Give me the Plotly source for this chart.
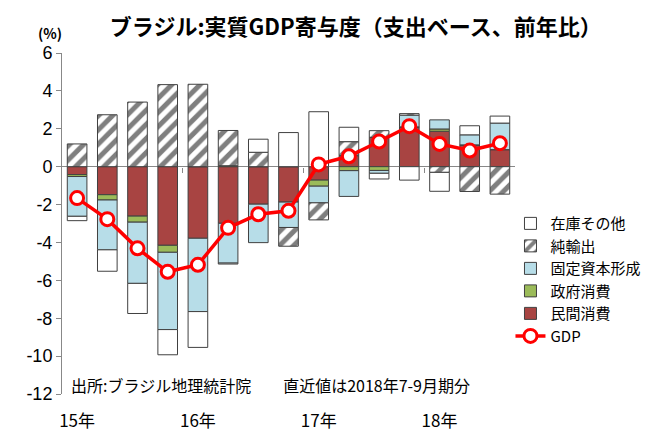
import plotly.graph_objects as go

# Brazil real GDP contributions (expenditure side, y/y, %pt), 2015Q1 - 2018Q3
quarters = ["15Q1", "15Q2", "15Q3", "15Q4", "16Q1", "16Q2", "16Q3", "16Q4",
            "17Q1", "17Q2", "17Q3", "17Q4", "18Q1", "18Q2", "18Q3"]
private_cons = [-0.42, -1.48, -2.61, -4.15, -3.78, -2.99, -1.98, -1.87,
                -0.71, 0.58, 1.55, 2.10, 1.87, 1.15, 0.90]
gov_cons = [-0.10, -0.28, -0.32, -0.37, 0.00, 0.05, 0.00, 0.00,
            -0.32, -0.21, -0.20, 0.00, 0.12, 0.00, 0.00]
fixed_cap = [-2.10, -2.63, -3.23, -4.08, -3.87, -2.10, -2.03, -1.34,
             -0.88, -1.36, -0.15, 0.62, 0.48, 0.53, 1.40]
net_exports = [1.20, 2.74, 3.41, 4.33, 4.35, 1.86, 0.76, -0.99,
               -0.90, 0.74, 0.35, 0.08, -0.30, -1.31, -1.45]
inventory = [-0.23, -1.13, -1.59, -1.33, -1.89, -0.05, 0.69, 1.80,
             2.90, 0.76, -0.30, -0.71, -1.00, 0.48, 0.37]
gdp = [-1.66, -2.77, -4.31, -5.55, -5.18, -3.23, -2.51, -2.33,
       0.12, 0.55, 1.33, 2.14, 1.20, 0.85, 1.24]

year_pos = [0, 4, 8, 12]
year_labels = ["15年", "16年", "17年", "18年"]
y_ticks = [6, 4, 2, 0, -2, -4, -6, -8, -10, -12]
y_labels = ["6", "4", "2", "0", "-2", "-4", "-6", "-8", "-10", "-12"]

JP = "Noto Sans CJK JP"
x = list(range(len(quarters)))
edge = dict(color="#404040", width=1)

fig = go.Figure()

# stacking order from the zero line outwards
fig.add_trace(go.Bar(name="民間消費", x=x, y=private_cons, legendrank=5,
                     marker=dict(color="#A84442", line=edge)))
fig.add_trace(go.Bar(name="政府消費", x=x, y=gov_cons, legendrank=4,
                     marker=dict(color="#9BBB59", line=edge)))
fig.add_trace(go.Bar(name="固定資本形成", x=x, y=fixed_cap, legendrank=3,
                     marker=dict(color="#B7DDE8", line=edge)))
fig.add_trace(go.Bar(name="純輸出", x=x, y=net_exports, legendrank=2,
                     marker=dict(color="white", line=edge,
                                 pattern=dict(shape="/", fgcolor="black", bgcolor="white",
                                              size=10, solidity=0.5))))
fig.add_trace(go.Bar(name="在庫その他", x=x, y=inventory, legendrank=1,
                     marker=dict(color="white", line=edge)))
fig.add_trace(go.Scatter(name="GDP", x=x, y=gdp, mode="lines+markers", legendrank=6,
                         line=dict(color="#FF0000", width=3.5),
                         marker=dict(symbol="circle", size=13, color="white",
                                     line=dict(color="#FF0000", width=3))))

# the page body adds an 8px offset, so the figure is 8px smaller each way
fig.update_layout(
    barmode="relative",
    bargap=0.35,
    width=650, height=423,
    margin=dict(l=54, r=107, t=45, b=37),
    plot_bgcolor="white", paper_bgcolor="white",
    font=dict(family=JP, color="black"),
    title=dict(text="<b>ブラジル:実質GDP寄与度（支出ベース、前年比）</b>",
               x=0.535, xanchor="center", y=0.955, yanchor="middle",
               font=dict(size=22, family=JP)),
    legend=dict(x=0.99, y=0.548, xanchor="left", yanchor="top",
                font=dict(size=15, family=JP), bgcolor="rgba(0,0,0,0)",
                tracegroupgap=0, itemwidth=30),
    showlegend=True,
)

fig.update_xaxes(range=[-0.5, 14.5], tickvals=year_pos, ticktext=year_labels,
                 ticks="", showline=False, showgrid=False, zeroline=False, automargin=False,
                 tickfont=dict(size=17, family=JP), ticklabelstandoff=15)

# category axis drawn along the zero line with ticks at year boundaries
fig.update_layout(xaxis2=dict(overlaying="x", matches="x", anchor="free", position=12 / 18,
                              tickvals=[3.5, 7.5, 11.5], ticks="outside", ticklen=5,
                              tickcolor="#888888", showticklabels=False, showgrid=False,
                              showline=False, zeroline=False, automargin=False))
fig.add_trace(go.Scatter(x=[None], y=[None], xaxis="x2", showlegend=False, hoverinfo="skip"))

fig.update_yaxes(range=[-12, 6], tickvals=y_ticks, ticktext=y_labels,
                 ticks="outside", ticklen=5, tickcolor="#888888",
                 showline=True, linecolor="#888888", linewidth=1, showgrid=False,
                 zeroline=True, zerolinecolor="#888888", zerolinewidth=1, automargin=False,
                 tickfont=dict(size=18, family="Liberation Sans Narrow, Liberation Sans"))

fig.add_annotation(text="<b>(%)</b>", xref="paper", yref="paper", x=0.005, y=1.06,
                   xanchor="right", yanchor="middle", showarrow=False,
                   font=dict(size=14, family=JP))
fig.add_annotation(text="出所:ブラジル地理統計院　　直近値は2018年7-9月期分",
                   xref="paper", yref="paper", x=0.015, y=0.025,
                   xanchor="left", yanchor="middle", showarrow=False,
                   font=dict(size=16, family=JP))

fig.write_html("out.html")
